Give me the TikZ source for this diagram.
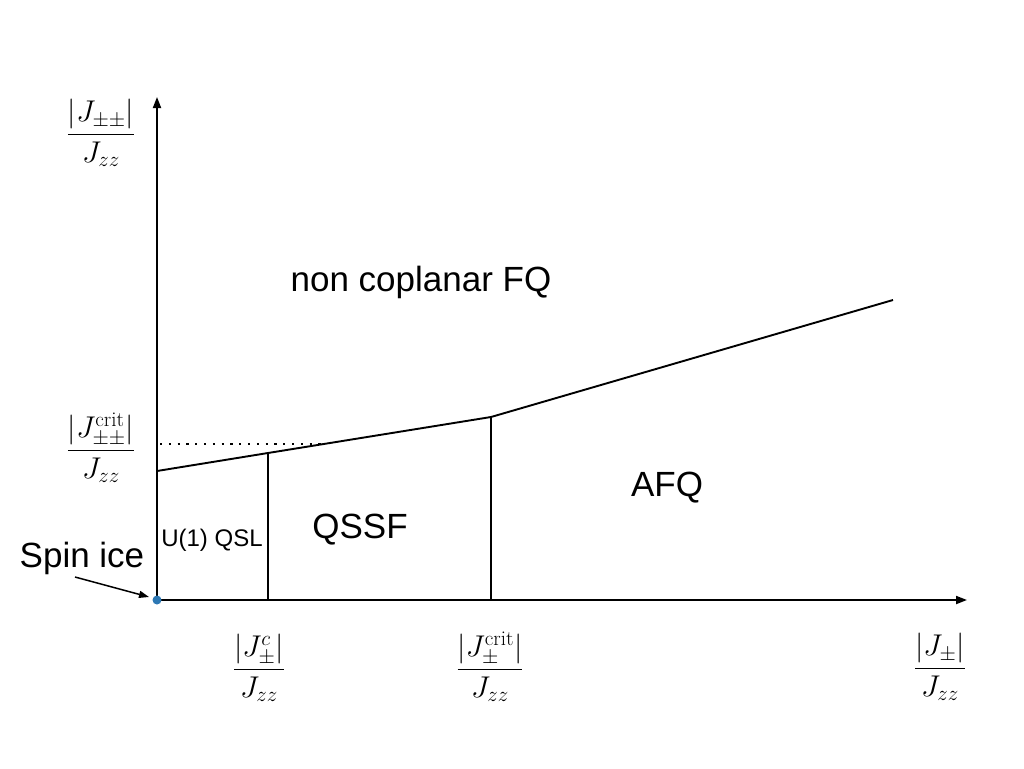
\RequirePackage{fix-cm}
\documentclass[tikz,border=0pt]{standalone}
\usepackage{fontspec}
\usepackage{amsmath}
\newfontfamily\helv{Liberation Sans}
\usetikzlibrary{arrows.meta}
\definecolor{dotblue}{RGB}{45,120,180}
\begin{document}
\begin{tikzpicture}[x=1pt,y=-1pt,
  axis/.style={line width=1.9pt,-{Triangle[length=11pt,width=8pt]}},
  bound/.style={line width=1.9pt},
  phase/.style={font=\helv\fontsize{35}{40}\selectfont,inner sep=0pt},
  small/.style={font=\helv\fontsize{24}{28}\selectfont,inner sep=0pt},
  frac/.style={font=\fontsize{30}{36}\selectfont,inner sep=0pt}]
\useasboundingbox (0,0) rectangle (1024,768);
% axes
\coordinate (O) at (157,600);
\coordinate (ytop) at (157,97);
\coordinate (xend) at (967,600);
\draw[axis] (O) -- (ytop);
\draw[axis] (O) -- (xend);
% boundary line
\coordinate (p0) at (157,471);
\coordinate (p1) at (268,453);
\coordinate (p2) at (491,417);
\coordinate (p3) at (893,300);
\coordinate (b1) at (268,600);
\coordinate (b2) at (491,600);
\draw[bound] (p0) -- (p1) -- (p2) -- (p3);
\draw[bound] (p1) -- (b1);
\draw[bound] (p2) -- (b2);
% dotted
\coordinate (d0) at (160,444);
\coordinate (d1) at (324,444);
\draw[line width=2pt,dash pattern=on 2.2pt off 6.6pt] (d0) -- (d1);
% spin ice dot
\fill[dotblue] (O) circle (4.5pt);
% labels
\node[frac] (ylab) at (101,133) {$\dfrac{|J_{\pm\pm}|}{J_{zz}}$};
\node[frac] (ycrit) at (101,448) {$\dfrac{|J^{\mathrm{crit}}_{\pm\pm}|}{J_{zz}}$};
\node[frac] (xc) at (259,668) {$\dfrac{|J^{c}_{\pm}|}{J_{zz}}$};
\node[frac] (xcrit) at (490,667) {$\dfrac{|J^{\mathrm{crit}}_{\pm}|}{J_{zz}}$};
\node[frac] (xlab) at (940,667) {$\dfrac{|J_{\pm}|}{J_{zz}}$};
\node[phase] (ncfq) at (421,282) {non coplanar FQ};
\node[phase] (qssf) at (360,530) {QSSF};
\node[phase] (afq) at (667,488) {AFQ};
\node[small] (qsl) at (212,540) {U(1) QSL};
\node[phase] (spin) at (82,558) {Spin ice};
\coordinate (arrstart) at (75,577);
\coordinate (arrend) at (149,597);
\draw[line width=1.5pt,-{Triangle[length=10pt,width=7pt]}] (arrstart) -- (arrend);
\end{tikzpicture}
\end{document}
